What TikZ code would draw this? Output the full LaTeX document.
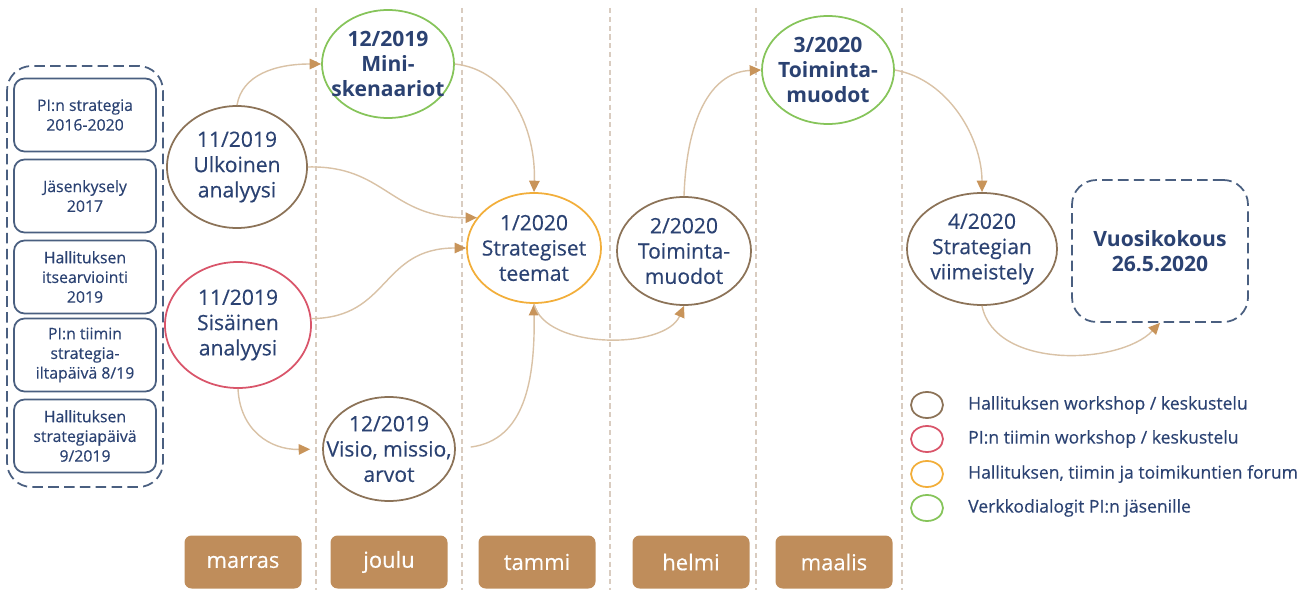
\documentclass[tikz,border=0pt]{standalone}
\usepackage{fontspec}
\setmainfont{Open Sans}[UprightFeatures={FakeBold=0.4}]
\usepackage{xcolor}
\usetikzlibrary{arrows.meta, shapes.geometric}

\definecolor{tekstisini}{HTML}{2B4272}
\definecolor{ruskea}{HTML}{8C7358}
\definecolor{punainen}{HTML}{D9556A}
\definecolor{oranssi}{HTML}{F2AE3A}
\definecolor{vihrea}{HTML}{86C45A}
\definecolor{nuoli}{HTML}{D9C2A6}
\definecolor{karki}{HTML}{C8945A}
\definecolor{kuukausi}{HTML}{BF8D5B}
\definecolor{viiva}{HTML}{D9CCC0}
\definecolor{reuna}{HTML}{4A5F80}

\begin{document}
\begin{tikzpicture}[x=0.2mm, y=-0.2mm,
        tapahtuma/.style={ellipse, draw, line width=1pt, text=tekstisini, align=center, inner xsep=-4mm, inner ysep=0pt, font=\fontsize{12}{14.4}\selectfont},
        lahde/.style={rectangle, rounded corners=6pt, draw=reuna, line width=1pt, text=tekstisini, align=center, minimum width=28.4mm, minimum height=14.6mm, font=\fontsize{9}{11.2}\selectfont},
        kuu/.style={rectangle, rounded corners=4pt, fill=kuukausi, text=white, minimum width=23.4mm, minimum height=10.6mm, font=\fontsize{12.5}{14}\selectfont},
        kulku/.style={draw=nuoli, line width=0.8pt, -{Triangle[length=6.5pt, width=6pt, color=karki]}}
    ]
        \useasboundingbox (0,0) rectangle (1302,590);

        % kuukaudet
        \foreach \x in {316,462,610,756,902} {
            \draw[viiva, line width=1pt, dash pattern=on 3pt off 2pt] (\x,8) -- (\x,590);
        }
        \foreach \x/\kk in {243/marras, 389/joulu, 537/tammi, 691/helmi, 834/maalis} {
            \node[kuu] (\kk) at (\x,562) {\kk};
        }

        % lähtötiedot
        \draw[reuna, line width=1pt, dash pattern=on 6pt off 3pt, rounded corners=14pt] (7,66) rectangle (163,487);
        \foreach \y/\teksti [count=\i] in {115/{PI:n strategia\\2016-2020}, 196/{Jäsenkysely\\2017}, 277/{Hallituksen\\itsearviointi\\2019}, 355/{PI:n tiimin\\strategia-\\iltapäivä 8/19}, 436/{Hallituksen\\strategiapäivä\\9/2019}} {
            \node[lahde] (lahde\i) at (85,\y) {\teksti};
        }

        \node[tapahtuma, draw=ruskea, minimum width=28mm, minimum height=24.4mm] (ulkoinen) at (237,167) {11/2019\\Ulkoinen\\analyysi};
        \node[tapahtuma, draw=punainen, minimum width=29.2mm, minimum height=25.2mm] (sisainen) at (238,325) {11/2019\\Sisäinen\\analyysi};
        \node[tapahtuma, draw=vihrea, minimum width=26.4mm, minimum height=21.6mm, font=\fontsize{12}{14.4}\selectfont\bfseries] (mini) at (388,64) {12/2019\\Mini-\\skenaariot};
        \node[tapahtuma, draw=ruskea, minimum width=26.4mm, minimum height=20.8mm] (visio) at (389,449) {12/2019\\Visio, missio,\\arvot};
        \node[tapahtuma, draw=oranssi, minimum width=26.8mm, minimum height=22mm] (teemat) at (534,248) {1/2020\\Strategiset\\teemat};
        \node[tapahtuma, draw=ruskea, minimum width=26.8mm, minimum height=21.6mm] (muodot1) at (684,251) {2/2020\\Toiminta-\\muodot};
        \node[tapahtuma, draw=vihrea, minimum width=26.4mm, minimum height=21.6mm, font=\fontsize{12}{14.4}\selectfont\bfseries] (muodot2) at (828,70) {3/2020\\Toiminta-\\muodot};
        \node[tapahtuma, draw=ruskea, minimum width=30mm, minimum height=22.4mm] (viimeistely) at (982,249) {4/2020\\Strategian\\viimeistely};
        \node[rectangle, draw=reuna, line width=1pt, dash pattern=on 6pt off 3pt, rounded corners=14pt, minimum width=35.2mm, minimum height=28.4mm, align=center, text=tekstisini, font=\fontsize{12}{14.4}\selectfont\bfseries] (vuosikokous) at (1160,251) {Vuosikokous\\26.5.2020};

        % nuolet
        \draw[kulku] (ulkoinen.north) .. controls (242,75) and (275,64) .. (mini.west);
        \draw[kulku] (ulkoinen.east) .. controls (385,165) and (390,218) .. (teemat.152);
        \draw[kulku] (sisainen.5) .. controls (390,318) and (380,248) .. (teemat.west);
        \draw[kulku, shorten >=2.4mm] (sisainen.south) .. controls (240,430) and (270,450) .. (visio.west);
        \draw[kulku] (mini.east) .. controls (510,70) and (536,130) .. (teemat.north);
        \draw[kulku, shorten <=3mm] (visio.east) .. controls (525,440) and (535,380) .. (teemat.south);
        \draw[kulku] (teemat.south) .. controls (545,350) and (665,350) .. (muodot1.south);
        \draw[kulku] (muodot1.north) .. controls (687,110) and (715,72) .. (muodot2.west);
        \draw[kulku] (muodot2.east) .. controls (950,80) and (982,140) .. (viimeistely.north);
        \draw[kulku] (viimeistely.south) .. controls (995,370) and (1120,365) .. (vuosikokous.south);

        % selite
        \foreach \y/\vari/\teksti [count=\i] in {405/ruskea/{Hallituksen workshop / keskustelu}, 439/punainen/{PI:n tiimin workshop / keskustelu}, 474/oranssi/{Hallituksen, tiimin ja toimikuntien forum}, 508/vihrea/{Verkkodialogit PI:n jäsenille}} {
            \node[ellipse, draw=\vari, line width=1pt, minimum width=6.4mm, minimum height=5.2mm] (merkki\i) at (927,\y) {};
            \node[anchor=west, text=tekstisini, font=\fontsize{10}{12}\selectfont] (selite\i) at (962,\y) {\teksti};
        }
    \end{tikzpicture}
\end{document}
